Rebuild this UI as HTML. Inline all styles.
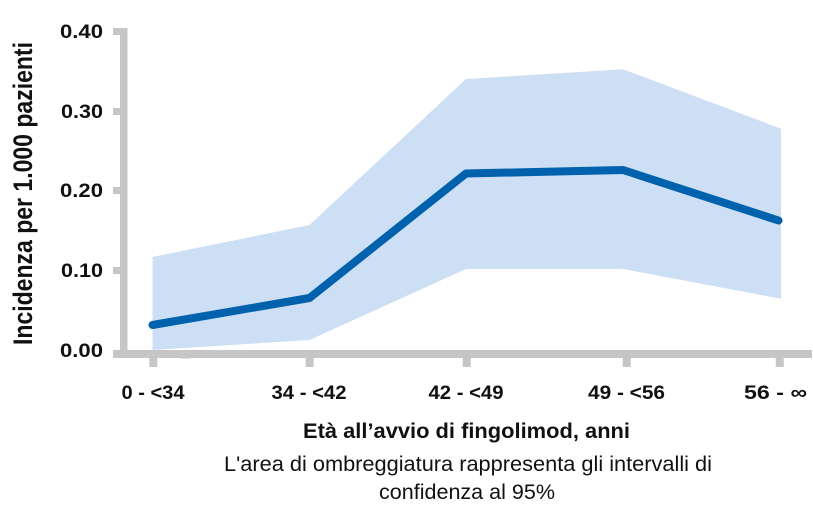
<!DOCTYPE html>
<html>
<head>
<meta charset="utf-8">
<style>
  html, body { margin:0; padding:0; background:#ffffff; }
  svg { display:block; }
  text { font-family: "Liberation Sans", "DejaVu Sans", sans-serif; fill:#111111; }
  .b { font-weight:bold; }
</style>
</head>
<body>
<svg width="813" height="505" viewBox="0 0 813 505" xmlns="http://www.w3.org/2000/svg">
  <!-- confidence band -->
  <polygon fill="#cddff4" points="152.5,257 309.5,225 466,79 623,69.3 781,128.7 781,298.7 623,269 466,269 309.5,340 152.5,350"/>

  <!-- axes -->
  <g fill="#c6c6c6">
    <rect x="120" y="28" width="7.5" height="330"/>
    <rect x="113" y="350" width="699" height="8"/>
    <!-- y ticks -->
    <rect x="113" y="28" width="8" height="7"/>
    <rect x="113" y="108" width="8" height="7"/>
    <rect x="113" y="187" width="8" height="7"/>
    <rect x="113" y="267" width="8" height="7"/>
    <!-- x ticks -->
    <rect x="149.3" y="357" width="8" height="10"/>
    <rect x="305.7" y="357" width="8" height="10"/>
    <rect x="462.7" y="357" width="8" height="10"/>
    <rect x="622.7" y="357" width="8" height="10"/>
    <rect x="775.7" y="357" width="8" height="10"/>
    <rect x="180" y="356.5" width="10" height="2"/>
  </g>

  <!-- main line -->
  <polyline fill="none" stroke="#0061ac" stroke-width="8" stroke-linecap="round" stroke-linejoin="round"
    points="152.5,325 309.5,298 466,173.5 623,170 778.5,220.5"/>

  <!-- y tick labels -->
  <g class="b" font-size="19" text-anchor="end">
    <text x="103" y="38" textLength="43" lengthAdjust="spacingAndGlyphs">0.40</text>
    <text x="103" y="118" textLength="42" lengthAdjust="spacingAndGlyphs">0.30</text>
    <text x="103" y="197" textLength="43" lengthAdjust="spacingAndGlyphs">0.20</text>
    <text x="103" y="277" textLength="42" lengthAdjust="spacingAndGlyphs">0.10</text>
    <text x="103" y="357" textLength="43" lengthAdjust="spacingAndGlyphs">0.00</text>
  </g>

  <!-- y axis title -->
  <text class="b" font-size="27" text-anchor="middle" transform="translate(32,193.5) rotate(-90)" textLength="303" lengthAdjust="spacingAndGlyphs">Incidenza per 1.000 pazienti</text>

  <!-- x tick labels -->
  <g class="b" font-size="19.5" text-anchor="middle">
    <text x="153" y="399" textLength="63" lengthAdjust="spacingAndGlyphs">0 - &lt;34</text>
    <text x="309" y="399" textLength="75" lengthAdjust="spacingAndGlyphs">34 - &lt;42</text>
    <text x="466" y="399" textLength="75" lengthAdjust="spacingAndGlyphs">42 - &lt;49</text>
    <text x="626.5" y="399" textLength="77" lengthAdjust="spacingAndGlyphs">49 - &lt;56</text>
    <text x="775.5" y="399" textLength="63" lengthAdjust="spacingAndGlyphs">56 - ∞</text>
  </g>

  <!-- x axis title -->
  <text class="b" font-size="21" x="466.5" y="438" text-anchor="middle" textLength="327" lengthAdjust="spacingAndGlyphs">Età all’avvio di fingolimod, anni</text>

  <!-- caption -->
  <g font-size="21.5" text-anchor="middle">
    <text x="468" y="471" textLength="488" lengthAdjust="spacingAndGlyphs">L'area di ombreggiatura rappresenta gli intervalli di</text>
    <text x="467" y="499" textLength="176" lengthAdjust="spacingAndGlyphs">confidenza al 95%</text>
  </g>
</svg>
</body>
</html>
